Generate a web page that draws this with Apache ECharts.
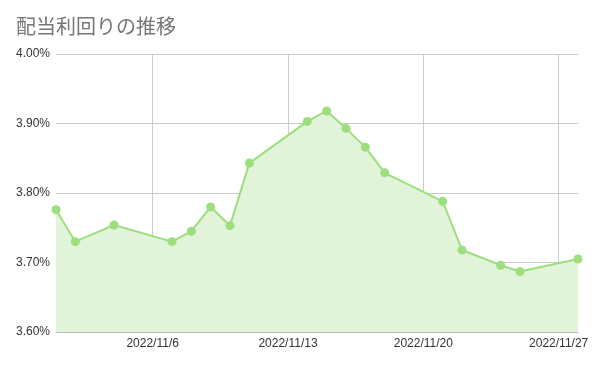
<!DOCTYPE html>
<html>
<head>
<meta charset="utf-8">
<script src="https://cdn.jsdelivr.net/npm/echarts@6/dist/echarts.min.js"></script>
<style>html,body{margin:0;padding:0;background:#fff}#c{width:595px;height:365px}</style>
</head>
<body>
<div id="c"></div>
<script>
const titleText = '配当利回りの推移';
const dates = ['2022-11-01','2022-11-02','2022-11-04','2022-11-07','2022-11-08','2022-11-09','2022-11-10','2022-11-11',
  '2022-11-14','2022-11-15','2022-11-16','2022-11-17','2022-11-18','2022-11-21','2022-11-22','2022-11-24','2022-11-25','2022-11-28'];
const yields = [3.776,3.730,3.754,3.730,3.745,3.780,3.753,3.843,
  3.903,3.918,3.893,3.866,3.829,3.788,3.718,3.696,3.687,3.705];
const xTicks = ['2022-11-06','2022-11-13','2022-11-20','2022-11-27'];
const yMin = 3.6, yMax = 4.0, yStep = 0.1;

function ts(s) { const p = s.split('-'); return Date.UTC(+p[0], +p[1]-1, +p[2]); }
function fmt(v) { const d = new Date(v); return d.getUTCFullYear() + '/' + (d.getUTCMonth()+1) + '/' + d.getUTCDate(); }

const chart = echarts.init(document.getElementById('c'));
chart.setOption({
  animation: false,
  title: {
    text: titleText, left: 11, top: 11,
    textStyle: {fontFamily: 'Noto Sans CJK JP', fontSize: 20, fontWeight: 'normal', color: '#757575'}
  },
  grid: {left: 56, right: 17, top: 54, bottom: 33},
  xAxis: {
    type: 'value',
    min: ts(dates[0]), max: ts(dates[dates.length-1]),
    axisLine: {show: true, lineStyle: {color: '#bdbdbd'}},
    axisTick: {show: false, customValues: xTicks.map(ts)},
    axisLabel: {
      customValues: xTicks.map(ts),
      color: '#333', fontSize: 12, fontFamily: 'Liberation Sans', margin: 6,
      formatter: fmt
    },
    splitLine: {show: true, lineStyle: {color: '#cccccc', width: 1}}
  },
  yAxis: {
    type: 'value', min: yMin, max: yMax, interval: yStep,
    axisLine: {show: false}, axisTick: {show: false},
    axisLabel: {color: '#333', fontSize: 12, fontFamily: 'Liberation Sans', margin: 6,
      formatter: function (v) { return v.toFixed(2) + '%'; }},
    splitLine: {lineStyle: {color: '#cccccc', width: 1}}
  },
  series: [{
    type: 'line',
    data: dates.map((d, i) => [ts(d), yields[i]]),
    symbol: 'circle', symbolSize: 9,
    itemStyle: {color: '#9ddf7f'},
    lineStyle: {color: '#9ddf7f', width: 2},
    areaStyle: {color: '#e1f3d9', opacity: 1, origin: 'start'}
  }]
});
</script>
</body>
</html>
